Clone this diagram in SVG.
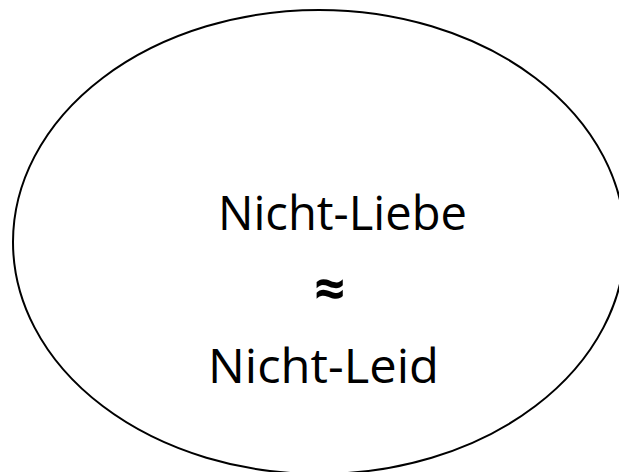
<svg xmlns="http://www.w3.org/2000/svg" width="619" height="472" viewBox="0 0 619 472">
<style>
.t{font-family:"Open Sans","Liberation Sans",sans-serif;font-size:47px;fill:#000}
.s{font-family:"Open Sans","Liberation Sans",sans-serif;font-size:54px;font-weight:bold;fill:#000;text-anchor:middle}
</style>
<rect width="619" height="472" fill="#fff"/>
<g id="node-ellipse">
<ellipse cx="319" cy="242" rx="306" ry="232" fill="none" stroke="#000" stroke-width="2"/>
<text class="t" x="218" y="230" textLength="249" lengthAdjust="spacingAndGlyphs">Nicht-Liebe</text>
<text class="s" x="330" y="308">≈</text>
<text class="t" x="208" y="383" textLength="231" lengthAdjust="spacingAndGlyphs">Nicht-Leid</text>
</g>
<g id="connectors"></g>
</svg>
